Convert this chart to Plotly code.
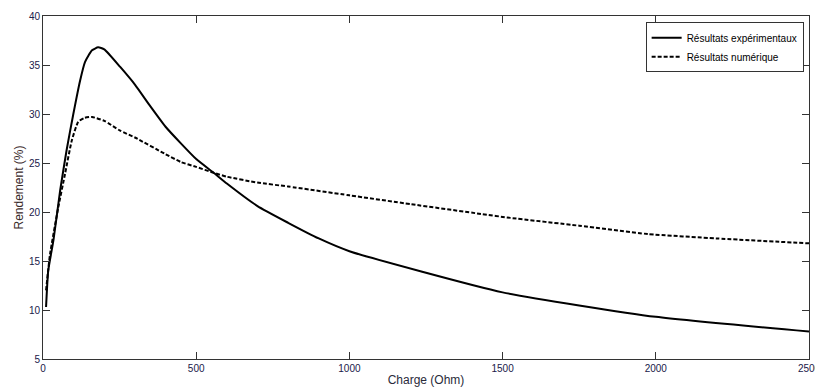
import plotly.graph_objects as go

# Experimental results (solid)
charge_exp = [10, 17, 34, 56, 77, 99, 121, 137, 160, 180, 200, 252, 300, 350, 400, 450, 500, 557, 600, 700, 800, 900, 1000, 1500, 2000, 2500]
rend_exp = [10.3, 14.0, 17.1, 22.2, 26.3, 30.0, 33.4, 35.3, 36.5, 36.8, 36.6, 34.8, 33.0, 30.8, 28.7, 27.0, 25.4, 24.0, 22.9, 20.6, 18.9, 17.3, 16.0, 11.8, 9.3, 7.8]

# Numerical results (dashed)
charge_num = [10, 23, 50, 72, 94, 115, 135, 160, 200, 252, 300, 400, 450, 500, 557, 600, 700, 800, 1000, 1200, 1430, 1525, 1750, 1975, 2200, 2500]
rend_num = [12.0, 15.7, 20.5, 23.9, 27.3, 29.2, 29.6, 29.7, 29.3, 28.3, 27.6, 25.9, 25.1, 24.6, 24.0, 23.6, 23.0, 22.6, 21.7, 20.8, 19.8, 19.4, 18.6, 17.75, 17.3, 16.8]

x_ticks = [0, 500, 1000, 1500, 2000, 2500]
y_ticks = [5, 10, 15, 20, 25, 30, 35, 40]

fig = go.Figure()
fig.add_trace(go.Scatter(x=charge_exp, y=rend_exp, mode="lines", name="Résultats expérimentaux",
                         line=dict(color="black", width=2, shape="spline", smoothing=0.5)))
fig.add_trace(go.Scatter(x=charge_num, y=rend_num, mode="lines", name="Résultats numérique",
                         line=dict(color="black", width=2, dash="4px,2px", shape="spline", smoothing=0.5)))

axis_common = dict(showgrid=False, zeroline=False, showline=True, linecolor="#333", linewidth=1,
                   mirror="allticks", ticks="inside", ticklen=7, tickcolor="#333", automargin=False,
                   tickfont=dict(family="Liberation Sans, Arial", size=10, color="#20204a"))

fig.update_xaxes(range=[0, 2500], tickvals=x_ticks, ticktext=[str(v) for v in x_ticks],
                 ticklabeloverflow="allow",
                 title=dict(text="Charge (Ohm)", font=dict(family="Liberation Sans, Arial", size=12, color="#2a2a3a"), standoff=2),
                 **axis_common)
fig.update_yaxes(range=[5, 40], tickvals=y_ticks, ticktext=[str(v) for v in y_ticks],
                 title=dict(text="Rendement (%)", font=dict(family="Liberation Sans, Arial", size=12, color="#3a2a2a"), standoff=2),
                 **axis_common)

fig.update_layout(
    width=815, height=390,
    margin=dict(l=43, r=6, t=16, b=31),
    paper_bgcolor="white", plot_bgcolor="white",
    showlegend=True,
    legend=dict(x=0.993, y=0.982, xanchor="right", yanchor="top",
                bgcolor="white", bordercolor="#333", borderwidth=1,
                font=dict(family="Liberation Sans, Arial", size=10, color="black"),
                tracegroupgap=0, itemwidth=30),
)

fig.write_html("out.html", config={"displayModeBar": False},
               post_script="document.body.style.margin='0';document.body.style.overflow='hidden';")
